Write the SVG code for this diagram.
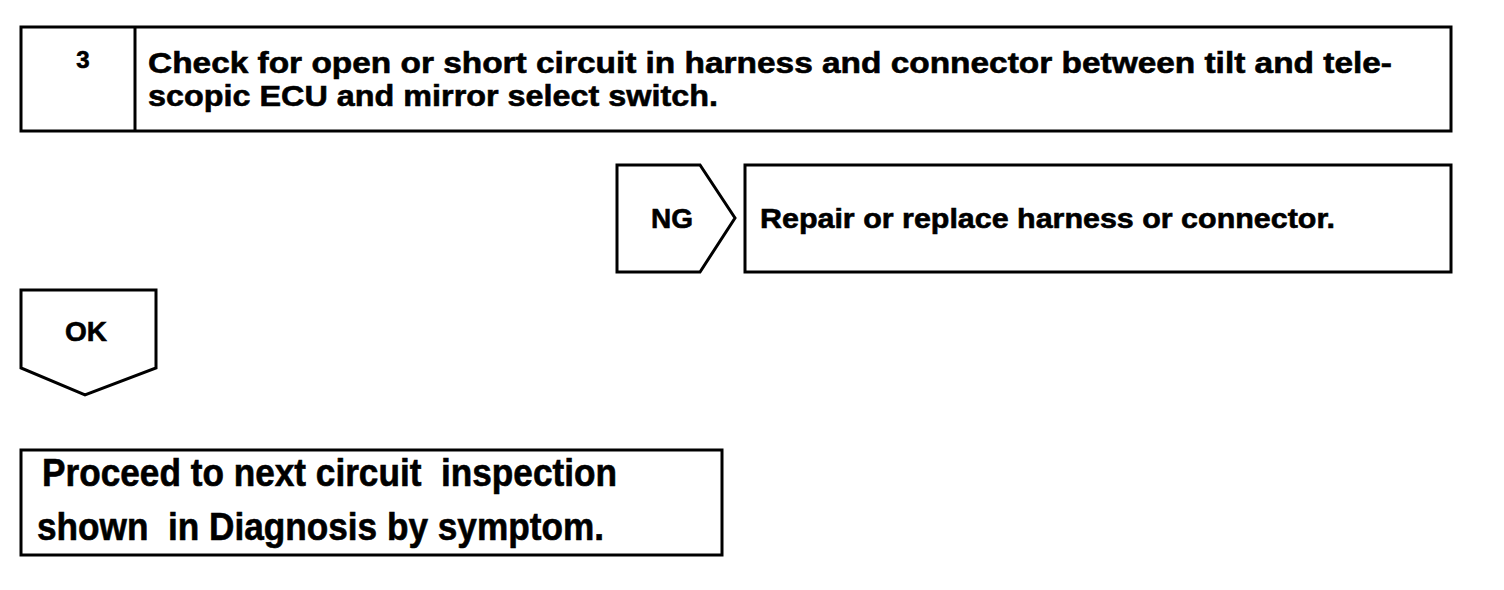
<svg xmlns="http://www.w3.org/2000/svg" width="1504" height="590" viewBox="0 0 1504 590">
<style>
.box{fill:#fff;stroke:#000;stroke-width:3}
.t{font-family:"Liberation Sans",Arial,sans-serif;font-weight:bold;fill:#000;stroke:#000;stroke-width:0.6;white-space:pre}
</style>
<rect width="1504" height="590" fill="#fff"/>
<g id="step3">
<rect class="box" x="21" y="27" width="1430" height="104"/>
<line x1="135" y1="27" x2="135" y2="131" stroke="#000" stroke-width="3"/>
<text class="t" x="83" y="68" font-size="24" text-anchor="middle">3</text>
<text class="t" x="148" y="73" font-size="30" textLength="1244" lengthAdjust="spacingAndGlyphs">Check for open or short circuit in harness and connector between tilt and tele-</text>
<text class="t" x="148" y="106" font-size="30" textLength="570" lengthAdjust="spacingAndGlyphs">scopic ECU and mirror select switch.</text>
</g>
<g id="ng">
<polygon class="box" points="617,165 700,165 735,218 700,272 617,272"/>
<text class="t" x="672" y="228" font-size="28" text-anchor="middle">NG</text>
</g>
<g id="repair">
<rect class="box" x="745" y="165" width="706" height="107"/>
<text class="t" x="760" y="228" font-size="28" textLength="575" lengthAdjust="spacingAndGlyphs">Repair or replace harness or connector.</text>
</g>
<g id="ok">
<polygon class="box" points="21,290 156,290 156,368 85,395 21,368"/>
<text class="t" x="86" y="341" font-size="28" text-anchor="middle">OK</text>
</g>
<g id="proceed">
<rect class="box" x="21" y="450" width="701" height="105"/>
<text class="t" x="42" y="486" font-size="38" textLength="575" lengthAdjust="spacingAndGlyphs" xml:space="preserve">Proceed to next circuit  inspection</text>
<text class="t" x="37" y="540" font-size="38" textLength="567" lengthAdjust="spacingAndGlyphs" xml:space="preserve">shown  in Diagnosis by symptom.</text>
</g>
<g id="connectors"></g>
</svg>
